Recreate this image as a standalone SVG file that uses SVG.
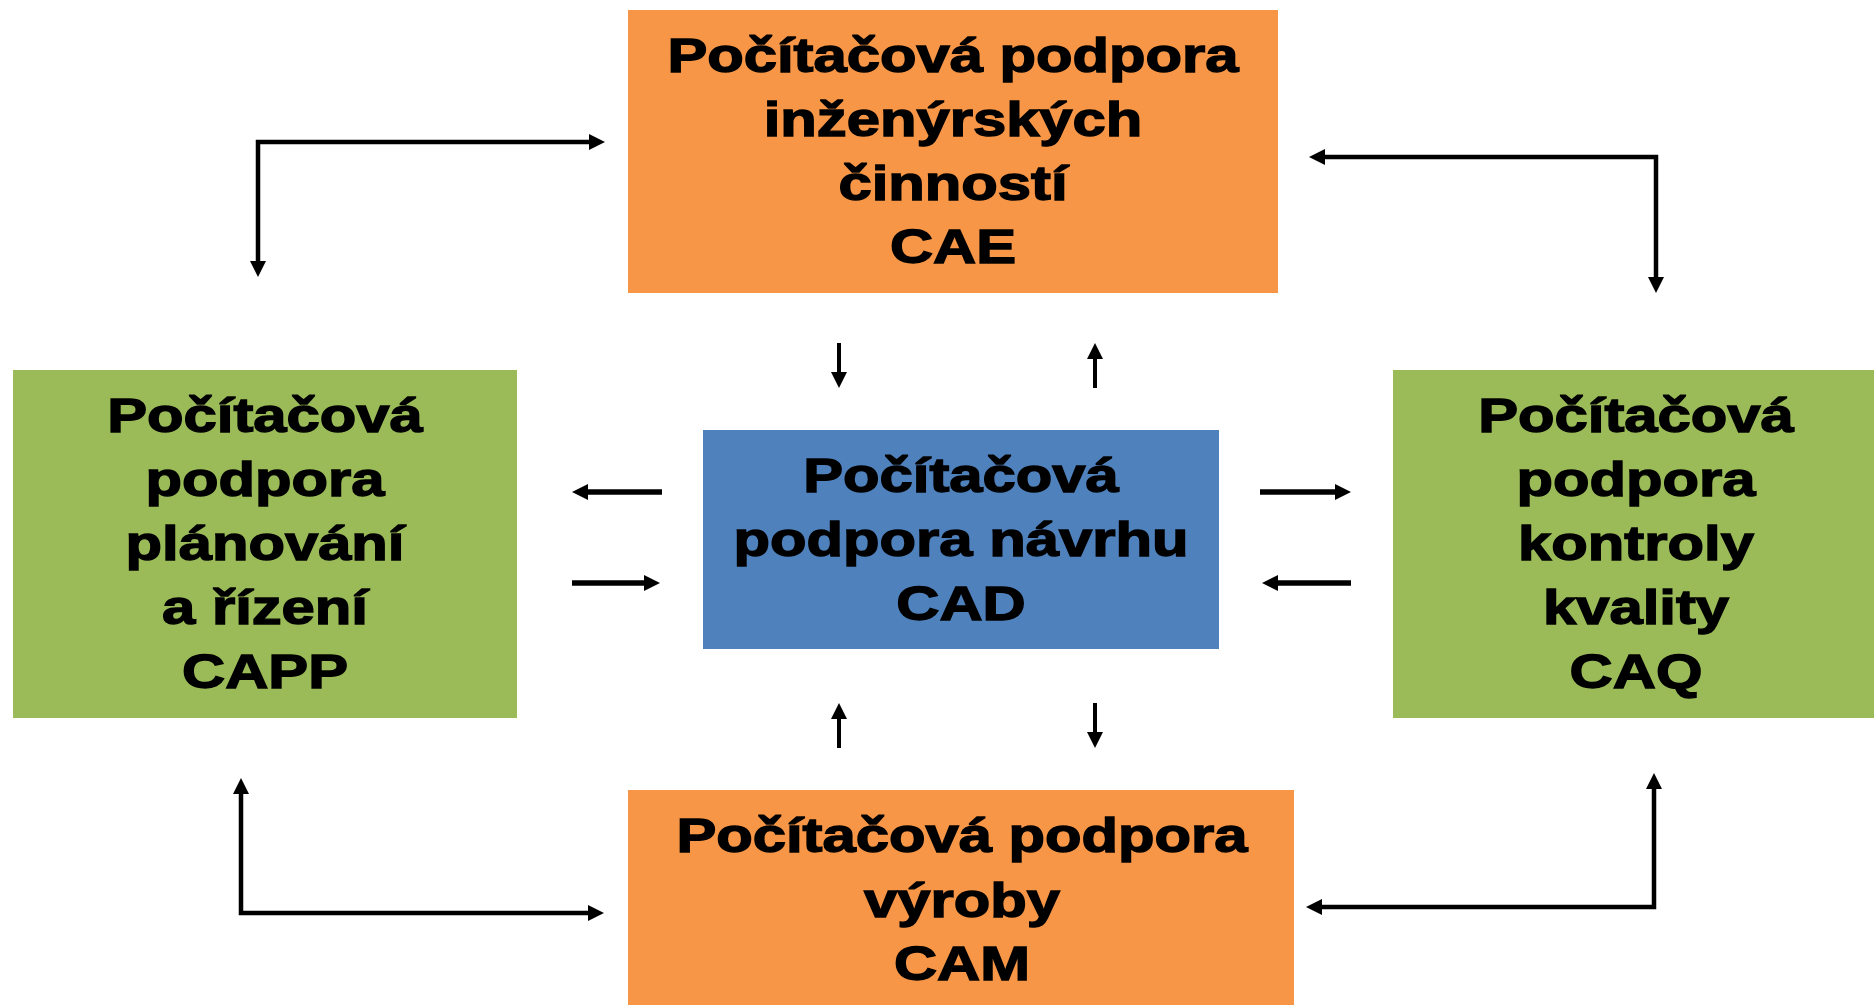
<svg xmlns="http://www.w3.org/2000/svg" width="1874" height="1005" viewBox="0 0 1874 1005">
<style>
.t{font-family:"Liberation Sans",Arial,sans-serif;font-weight:bold;font-size:49px;fill:#000;stroke:#000;stroke-width:1.4;text-anchor:middle}
.c{fill:none;stroke:#000;stroke-width:4.5}
.h{stroke-width:5.5}
.v{stroke-width:4}
</style>
<defs>
<marker id="ah" markerUnits="userSpaceOnUse" markerWidth="17" markerHeight="17" refX="0" refY="8" orient="auto-start-reverse">
<path d="M0,0 L16,8 L0,16 z" fill="#000"/>
</marker>
</defs>
<rect width="1874" height="1005" fill="#fff"/>
<g id="cae">
<rect x="628" y="10" width="650" height="283" fill="#F79646"/>
<g transform="translate(953,0) scale(1.22,1)">
<text class="t" x="0" y="72">Počítačová podpora</text>
<text class="t" x="0" y="136">inženýrských</text>
<text class="t" x="0" y="200">činností</text>
<text class="t" x="0" y="263">CAE</text>
</g>
</g>
<g id="capp">
<rect x="13" y="370" width="504" height="348" fill="#9BBB59"/>
<g transform="translate(265,0) scale(1.22,1)">
<text class="t" x="0" y="432">Počítačová</text>
<text class="t" x="0" y="496">podpora</text>
<text class="t" x="0" y="560">plánování</text>
<text class="t" x="0" y="624">a řízení</text>
<text class="t" x="0" y="688">CAPP</text>
</g>
</g>
<g id="caq">
<rect x="1393" y="370" width="481" height="348" fill="#9BBB59"/>
<g transform="translate(1636,0) scale(1.22,1)">
<text class="t" x="0" y="432">Počítačová</text>
<text class="t" x="0" y="496">podpora</text>
<text class="t" x="0" y="560">kontroly</text>
<text class="t" x="0" y="624">kvality</text>
<text class="t" x="0" y="688">CAQ</text>
</g>
</g>
<g id="cad">
<rect x="703" y="430" width="516" height="219" fill="#4F81BD"/>
<g transform="translate(961,0) scale(1.22,1)">
<text class="t" x="0" y="492">Počítačová</text>
<text class="t" x="0" y="556">podpora návrhu</text>
<text class="t" x="0" y="620">CAD</text>
</g>
</g>
<g id="cam">
<rect x="628" y="790" width="666" height="215" fill="#F79646"/>
<g transform="translate(962,0) scale(1.22,1)">
<text class="t" x="0" y="852">Počítačová podpora</text>
<text class="t" x="0" y="917">výroby</text>
<text class="t" x="0" y="980">CAM</text>
</g>
</g>
<g id="connectors">
<path class="c" d="M258,261 L258,142 L589,142" marker-start="url(#ah)" marker-end="url(#ah)"/>
<path class="c" d="M1325,157 L1656,157 L1656,277" marker-start="url(#ah)" marker-end="url(#ah)"/>
<path class="c" d="M241,794 L241,913 L588,913" marker-start="url(#ah)" marker-end="url(#ah)"/>
<path class="c" d="M1322,907 L1654,907 L1654,789" marker-start="url(#ah)" marker-end="url(#ah)"/>
<path class="c v" d="M839,343 L839,372" marker-end="url(#ah)"/>
<path class="c v" d="M1095,388 L1095,359" marker-end="url(#ah)"/>
<path class="c h" d="M662,492 L588,492" marker-end="url(#ah)"/>
<path class="c h" d="M572,583 L644,583" marker-end="url(#ah)"/>
<path class="c h" d="M1260,492 L1335,492" marker-end="url(#ah)"/>
<path class="c h" d="M1351,583 L1278,583" marker-end="url(#ah)"/>
<path class="c v" d="M839,748 L839,719" marker-end="url(#ah)"/>
<path class="c v" d="M1095,703 L1095,732" marker-end="url(#ah)"/>
</g>
</svg>
